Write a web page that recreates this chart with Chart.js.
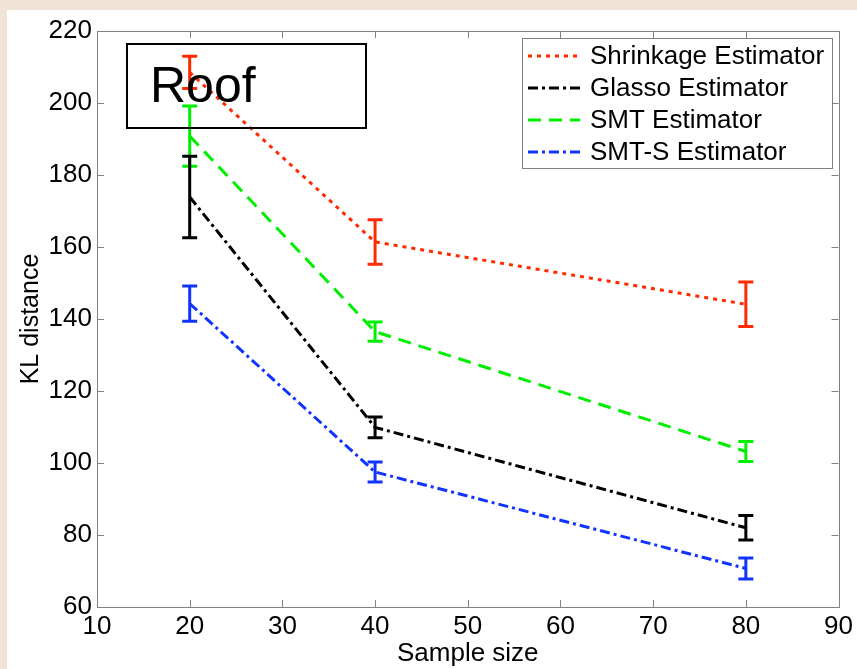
<!DOCTYPE html>
<html>
<head>
<meta charset="utf-8">
<title>KL distance vs sample size</title>
<script src="https://cdn.jsdelivr.net/npm/chart.js@4.4.0/dist/chart.umd.min.js"></script>
<style>
  html, body { margin: 0; padding: 0; background: #efe4d5; }
  #plot { position: absolute; left: 0; top: 0; }
</style>
</head>
<body>
<canvas id="plot" width="857" height="669"></canvas>
<script>
// sample sizes on the x axis
const sampleSizes = [20, 40, 80];

// mean KL distance and error half-widths per estimator
const shrinkage    = [208.5, 161.4, 144.1];
const shrinkageErr = [4.5, 6.2, 6.2];
const glasso       = [173.9, 109.9, 82.0];
const glassoErr    = [11.3, 2.9, 3.4];
const smt          = [190.8, 136.5, 103.2];
const smtErr       = [8.4, 2.7, 2.8];
const smtS         = [144.3, 97.5, 70.7];
const smtSErr      = [4.9, 2.8, 2.9];

const seriesNames = ['Shrinkage Estimator', 'Glasso Estimator', 'SMT Estimator', 'SMT-S Estimator'];
const xTicks = [10, 20, 30, 40, 50, 60, 70, 80, 90];
const yTicks = [60, 80, 100, 120, 140, 160, 180, 200, 220];

const FONT = '"Liberation Sans", Arial, sans-serif';
const AXIS_GRAY = '#808080';

function makeSet(label, values, errs, color, dash) {
  return {
    label,
    data: sampleSizes.map((x, i) => ({ x, y: values[i] })),
    errors: errs,
    borderColor: color,
    backgroundColor: color,
    borderWidth: 3,
    borderDash: dash,
    borderCapStyle: 'butt',
    pointRadius: 0,
    tension: 0,
    fill: false
  };
}

const datasets = [
  makeSet(seriesNames[0], shrinkage, shrinkageErr, '#ff2a00', [4, 5]),
  makeSet(seriesNames[1], glasso, glassoErr, '#000000', [10, 4, 3, 4]),
  makeSet(seriesNames[2], smt, smtErr, '#00ee00', [13, 8]),
  makeSet(seriesNames[3], smtS, smtSErr, '#1133ff', [10, 4, 3, 4])
];

// white figure panel behind everything
const panelBg = {
  id: 'panelBg',
  beforeDraw(chart) {
    const ctx = chart.ctx;
    ctx.save();
    ctx.fillStyle = '#ffffff';
    ctx.fillRect(7, 10, chart.width - 7, chart.height - 10);
    ctx.restore();
  }
};

// box around the axes with inward tick marks on all four sides
const axesBox = {
  id: 'axesBox',
  afterDatasetsDraw(chart) {
    const { ctx, chartArea: a, scales: { x, y } } = chart;
    const len = 7;
    ctx.save();
    ctx.strokeStyle = AXIS_GRAY;
    ctx.lineWidth = 1;
    ctx.setLineDash([]);
    ctx.strokeRect(Math.round(a.left) + 0.5, Math.round(a.top) + 0.5,
                   Math.round(a.right - a.left), Math.round(a.bottom - a.top));
    ctx.beginPath();
    xTicks.forEach(v => {
      const px = Math.round(x.getPixelForValue(v)) + 0.5;
      ctx.moveTo(px, a.bottom); ctx.lineTo(px, a.bottom - len);
      ctx.moveTo(px, a.top); ctx.lineTo(px, a.top + len);
    });
    yTicks.forEach(v => {
      const py = Math.round(y.getPixelForValue(v)) + 0.5;
      ctx.moveTo(a.left, py); ctx.lineTo(a.left + len, py);
      ctx.moveTo(a.right, py); ctx.lineTo(a.right - len, py);
    });
    ctx.stroke();
    ctx.restore();
  }
};

// vertical error bars with caps, drawn from each dataset's errors
const errorBars = {
  id: 'errorBars',
  afterDatasetDraw(chart, args) {
    const ds = chart.data.datasets[args.index];
    if (!ds.errors) return;
    const { ctx, scales: { x, y } } = chart;
    const cap = 7.5;
    ctx.save();
    ctx.strokeStyle = ds.borderColor;
    ctx.lineWidth = 3;
    ctx.setLineDash([]);
    ctx.lineCap = 'butt';
    ds.data.forEach((p, i) => {
      const px = x.getPixelForValue(p.x);
      const top = y.getPixelForValue(p.y + ds.errors[i]);
      const bot = y.getPixelForValue(p.y - ds.errors[i]);
      ctx.beginPath();
      ctx.moveTo(px, top); ctx.lineTo(px, bot);
      ctx.moveTo(px - cap, top); ctx.lineTo(px + cap, top);
      ctx.moveTo(px - cap, bot); ctx.lineTo(px + cap, bot);
      ctx.stroke();
    });
    ctx.restore();
  }
};

// "Roof" label box and the legend box
const annotations = {
  id: 'annotations',
  afterDraw(chart) {
    const ctx = chart.ctx;
    ctx.save();
    ctx.setLineDash([]);
    ctx.strokeStyle = '#000000';
    ctx.lineWidth = 2;
    ctx.strokeRect(127, 44, 239, 84);
    ctx.fillStyle = '#000000';
    ctx.font = '50px ' + FONT;
    ctx.textBaseline = 'alphabetic';
    ctx.textAlign = 'left';
    ctx.fillText('Roof', 150, 102);

    // legend
    ctx.fillStyle = '#ffffff';
    ctx.fillRect(522, 38, 310, 130);
    ctx.strokeStyle = AXIS_GRAY;
    ctx.lineWidth = 1;
    ctx.strokeRect(522.5, 38.5, 310, 130);
    const rows = [56, 88, 120, 152];
    chart.data.datasets.forEach((ds, i) => {
      ctx.strokeStyle = ds.borderColor;
      ctx.lineWidth = 3;
      ctx.setLineDash(ds.borderDash);
      ctx.beginPath();
      ctx.moveTo(528, rows[i]);
      ctx.lineTo(580, rows[i]);
      ctx.stroke();
      ctx.setLineDash([]);
      ctx.fillStyle = '#000000';
      ctx.font = '26px ' + FONT;
      ctx.textBaseline = 'middle';
      ctx.fillText(ds.label, 590, rows[i] + 1);
    });
    ctx.restore();
  }
};

new Chart(document.getElementById('plot'), {
  type: 'line',
  data: { datasets },
  options: {
    responsive: false,
    animation: false,
    layout: { padding: { left: 0, top: 31, right: 17, bottom: 0 } },
    plugins: {
      legend: { display: false },
      title: { display: false },
      tooltip: { enabled: false }
    },
    scales: {
      x: {
        type: 'linear',
        min: 10, max: 90,
        afterBuildTicks: s => { s.ticks = xTicks.map(v => ({ value: v })); },
        afterFit: s => { s.height = 62; },
        grid: { display: false, drawTicks: false },
        border: { display: false },
        ticks: { color: '#000', font: { family: FONT, size: 26 }, padding: 4, maxRotation: 0, autoSkip: false },
        title: { display: true, text: 'Sample size', color: '#000', font: { family: FONT, size: 26 }, padding: { top: 0, bottom: 0 } }
      },
      y: {
        type: 'linear',
        min: 60, max: 220,
        afterBuildTicks: s => { s.ticks = yTicks.map(v => ({ value: v })); },
        afterFit: s => { s.width = 97; },
        grid: { display: false, drawTicks: false },
        border: { display: false },
        ticks: { color: '#000', font: { family: FONT, size: 26 }, padding: 5, autoSkip: false },
        title: { display: true, text: 'KL distance', color: '#000', font: { family: FONT, size: 25 }, padding: { top: 16, bottom: 0 } }
      }
    }
  },
  plugins: [panelBg, errorBars, axesBox, annotations]
});
</script>
</body>
</html>
